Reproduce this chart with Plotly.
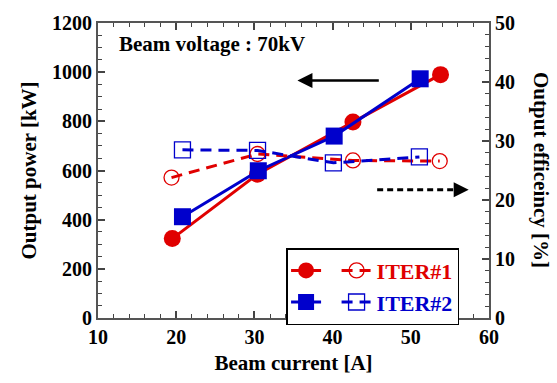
import plotly.graph_objects as go

# ---- data ----
iter1_current = [19.5, 30.4, 42.6, 53.8]
iter1_power = [323, 585, 797, 990]
iter1_eff_current = [19.4, 30.4, 42.6, 53.7]
iter1_eff = [23.8, 27.8, 26.7, 26.6]

iter2_current = [20.8, 30.5, 40.2, 51.2]
iter2_power = [412, 599, 740, 973]
iter2_eff_current = [20.8, 30.4, 40.1, 51.1]
iter2_eff = [28.5, 28.4, 26.3, 27.3]

RED = "#e00000"
BLUE = "#0000cc"
FONT = "Liberation Serif, Times New Roman, serif"

fig = go.Figure()

fig.add_trace(go.Scatter(
    x=iter1_current, y=iter1_power, mode="lines+markers", name=" ",
    legendgroup="power",
    line=dict(color=RED, width=3),
    marker=dict(symbol="circle", size=17, color=RED),
))
fig.add_trace(go.Scatter(
    x=iter2_current, y=iter2_power, mode="lines+markers", name=" ",
    legendgroup="power",
    line=dict(color=BLUE, width=3),
    marker=dict(symbol="square", size=17, color=BLUE),
))
fig.add_trace(go.Scatter(
    x=iter1_eff_current, y=iter1_eff, mode="lines+markers",
    name="<span style='color:%s'>ITER#1</span>" % RED,
    legendgroup="eff", yaxis="y2",
    line=dict(color=RED, width=3, dash="11px,7px"),
    marker=dict(symbol="circle-open", size=15, color=RED, line=dict(width=1.3)),
))
fig.add_trace(go.Scatter(
    x=iter2_eff_current, y=iter2_eff, mode="lines+markers",
    name="<span style='color:%s'>ITER#2</span>" % BLUE,
    legendgroup="eff", yaxis="y2",
    line=dict(color=BLUE, width=3, dash="11px,7px"),
    marker=dict(symbol="square-open", size=16, color=BLUE, line=dict(width=1.3)),
))

tickfont = dict(family=FONT, size=20, color="black", weight="bold")
titlefont = dict(family=FONT, size=21, color="black", weight="bold")

fig.update_layout(
    width=557, height=383,
    margin=dict(l=98, r=68, t=20, b=55),
    paper_bgcolor="white", plot_bgcolor="white",
    showlegend=True,
    legend=dict(
        orientation="h", traceorder="grouped",
        x=0.481, y=0.237, xanchor="left", yanchor="top",
        bgcolor="white", bordercolor="black", borderwidth=1.5,
        font=dict(family=FONT, size=22, color="black", weight="bold"),
        tracegroupgap=0, itemwidth=30,
    ),
    xaxis=dict(
        range=[10, 60], dtick=10, tick0=10,
        ticks="inside", ticklen=7, tickwidth=1.5, tickcolor="#444",
        minor=dict(dtick=2, ticks="inside", ticklen=4, tickwidth=1.2, tickcolor="#444"),
        showline=True, linecolor="#555", linewidth=2, mirror="ticks",
        showgrid=False, zeroline=False,
        tickfont=tickfont,
        title=dict(text="Beam current [A]", font=titlefont, standoff=8),
    ),
    yaxis=dict(
        range=[0, 1200], dtick=200,
        ticks="inside", ticklen=7, tickwidth=1.5, tickcolor="#444",
        minor=dict(dtick=50, ticks="inside", ticklen=4, tickwidth=1.2, tickcolor="#444"),
        showline=True, linecolor="#555", linewidth=2,
        showgrid=False, zeroline=False,
        tickfont=tickfont,
        title=dict(text="Output power [kW]", font=titlefont, standoff=10),
    ),
    yaxis2=dict(
        overlaying="y", side="right", range=[0, 50], dtick=10,
        ticks="inside", ticklen=7, tickwidth=1.5, tickcolor="#444",
        minor=dict(dtick=2, ticks="inside", ticklen=4, tickwidth=1.2, tickcolor="#444"),
        showline=True, linecolor="#555", linewidth=2,
        showgrid=False, zeroline=False,
        tickfont=tickfont,
    ),
)

# right axis title (reads top to bottom)
fig.add_annotation(
    xref="paper", yref="paper", x=1.17, y=0.5, showarrow=False,
    text="Output efficeincy [%]", textangle=90, font=titlefont,
)
# Beam voltage label
fig.add_annotation(
    xref="paper", yref="paper", x=0.048, y=0.93, xanchor="left", yanchor="middle",
    showarrow=False, text="Beam voltage : 70kV",
    font=dict(family=FONT, size=21, color="black", weight="bold"),
)
# solid arrow pointing to left axis
fig.add_annotation(
    xref="x", yref="y", x=35.5, y=966, ax=46.1, ay=966, axref="x", ayref="y",
    text="", showarrow=True, arrowhead=2, arrowsize=1.2, arrowwidth=2.5, arrowcolor="black",
)
# dashed arrow pointing to right axis
fig.add_shape(type="line", xref="x", yref="y2", x0=45.7, x1=56.3, y0=21.75, y1=21.75,
              line=dict(color="black", width=3, dash="6px,4px"))
fig.add_annotation(
    xref="x", yref="y2", x=57.4, y=21.75, ax=55.9, ay=21.75, axref="x", ayref="y2",
    text="", showarrow=True, arrowhead=2, arrowsize=1.2, arrowwidth=2.5, arrowcolor="black",
)
# legend divider
fig.add_shape(type="line", xref="paper", yref="paper", x0=0.616, x1=0.616, y0=0.039, y1=0.237,
              line=dict(color="#444", width=1.5))

fig.write_html("out.html")
